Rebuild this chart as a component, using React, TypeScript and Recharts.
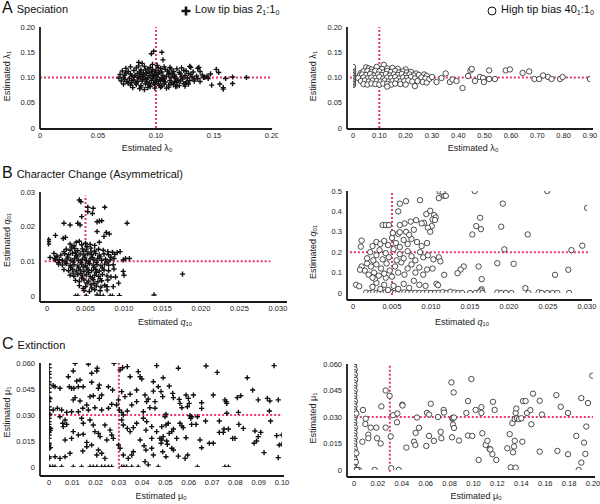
import React from 'react';
import { ScatterChart, Scatter, XAxis, YAxis, ReferenceLine } from 'recharts';

type P = [number, number];

// ---------- Panel A: Speciation ----------
const aLowPts: P[] = [
  [0.078,0.121],[0.085,0.123],[0.09,0.122],[0.095,0.12],[0.101,0.124],[0.107,0.121],[0.112,0.12],[0.083,0.119],[0.097,0.126],[0.104,0.118],[0.074,0.118],[0.118,0.117],[0.13,0.12],[0.136,0.118],[0.088,0.128],[0.122,0.119],
  [0.071,0.113],[0.076,0.112],[0.081,0.114],[0.086,0.111],[0.091,0.115],[0.096,0.112],[0.1,0.114],[0.105,0.111],[0.11,0.113],[0.115,0.112],[0.12,0.11],[0.126,0.113],[0.132,0.111],[0.138,0.112],[0.093,0.117],[0.108,0.116],
  [0.069,0.106],[0.073,0.105],[0.078,0.107],[0.082,0.104],[0.087,0.106],[0.092,0.108],[0.097,0.105],[0.102,0.107],[0.106,0.104],[0.111,0.106],[0.116,0.105],[0.121,0.107],[0.125,0.104],[0.13,0.106],[0.135,0.103],[0.14,0.105],[0.089,0.109],[0.099,0.109],[0.114,0.108],
  [0.068,0.099],[0.072,0.1],[0.077,0.098],[0.081,0.101],[0.085,0.099],[0.089,0.102],[0.093,0.1],[0.097,0.098],[0.101,0.101],[0.105,0.099],[0.109,0.102],[0.113,0.1],[0.117,0.098],[0.122,0.101],[0.127,0.099],[0.131,0.101],[0.136,0.098],[0.141,0.1],[0.095,0.103],[0.103,0.096],[0.088,0.096],
  [0.07,0.093],[0.075,0.092],[0.079,0.094],[0.084,0.092],[0.088,0.093],[0.092,0.091],[0.096,0.094],[0.1,0.092],[0.104,0.093],[0.108,0.091],[0.112,0.094],[0.116,0.092],[0.121,0.093],[0.126,0.091],[0.133,0.093],[0.138,0.092],[0.098,0.089],[0.083,0.089],
  [0.072,0.087],[0.078,0.085],[0.083,0.086],[0.087,0.084],[0.091,0.087],[0.095,0.085],[0.099,0.086],[0.103,0.084],[0.107,0.087],[0.111,0.085],[0.115,0.086],[0.12,0.084],[0.128,0.087],[0.076,0.089],
  [0.08,0.08],[0.086,0.078],[0.093,0.08],[0.099,0.079],[0.104,0.081],[0.109,0.079],[0.117,0.082],[0.125,0.083],[0.09,0.076],
  [0.074,0.109],[0.079,0.103],[0.084,0.108],[0.09,0.105],[0.094,0.11],[0.098,0.102],[0.103,0.11],[0.107,0.097],[0.111,0.109],[0.116,0.102],[0.119,0.095],[0.123,0.097],[0.128,0.108],[0.133,0.097],[0.081,0.095],[0.086,0.102],[0.091,0.097],[0.094,0.088],[0.102,0.088],[0.106,0.095],[0.113,0.089],[0.118,0.09],[0.124,0.088],[0.079,0.09],[0.073,0.096],[0.097,0.116],[0.102,0.119],[0.087,0.115],[0.113,0.117],[0.124,0.114],[0.129,0.094],[0.144,0.103],[0.147,0.107],[0.095,0.082],[0.105,0.083],[0.111,0.081],[0.087,0.081],[0.1,0.095],[0.1,0.105],[0.092,0.096],
  [0.098,0.152],[0.105,0.15],[0.096,0.147],[0.106,0.135],[0.085,0.13],[0.129,0.122],[0.137,0.12],[0.145,0.098],[0.152,0.116],[0.154,0.11],[0.148,0.085],[0.155,0.087],[0.158,0.08],[0.158,0.077],[0.166,0.101],[0.166,0.088],[0.178,0.1],[0.142,0.1],[0.16,0.098],[0.125,0.087],[0.118,0.083]
];
const aHighPts: P[] = [
  [0,0.085],[0,0.088],[0,0.091],[0,0.094],[0,0.097],[0,0.1],[0,0.103],[0,0.106],[0,0.109],[0,0.112],[0,0.115],[0,0.118],[0,0.121],
  [0.05,0.12],[0.06,0.118],[0.09,0.121],[0.117,0.125],[0.13,0.118],[0.15,0.119],[0.17,0.117],[0.07,0.116],[0.2,0.116],[0.11,0.117],
  [0.03,0.109],[0.04,0.112],[0.055,0.113],[0.07,0.111],[0.085,0.113],[0.1,0.112],[0.115,0.11],[0.13,0.113],[0.145,0.111],[0.16,0.113],[0.175,0.11],[0.19,0.112],[0.205,0.11],[0.22,0.111],[0.24,0.108],
  [0.025,0.104],[0.035,0.106],[0.05,0.105],[0.065,0.107],[0.08,0.104],[0.095,0.106],[0.11,0.105],[0.125,0.107],[0.14,0.104],[0.155,0.106],[0.17,0.105],[0.185,0.107],[0.2,0.104],[0.215,0.106],[0.23,0.104],[0.25,0.105],[0.27,0.106],[0.28,0.103],
  [0.02,0.099],[0.04,0.1],[0.055,0.098],[0.07,0.1],[0.085,0.099],[0.1,0.101],[0.115,0.098],[0.13,0.1],[0.145,0.099],[0.16,0.101],[0.175,0.098],[0.19,0.1],[0.205,0.099],[0.22,0.101],[0.235,0.098],[0.26,0.1],[0.275,0.098],
  [0.03,0.093],[0.045,0.094],[0.06,0.092],[0.075,0.094],[0.09,0.093],[0.105,0.092],[0.12,0.094],[0.135,0.092],[0.15,0.093],[0.165,0.094],[0.18,0.092],[0.195,0.093],[0.21,0.094],[0.225,0.092],[0.245,0.093],[0.265,0.091],
  [0.04,0.087],[0.055,0.086],[0.07,0.088],[0.085,0.087],[0.1,0.086],[0.115,0.088],[0.13,0.087],[0.145,0.086],[0.16,0.088],[0.18,0.087],[0.2,0.086],[0.235,0.083],[0.13,0.082],[0.28,0.09],
  [0.29,0.097],[0.3,0.101],[0.317,0.091],[0.336,0.099],[0.352,0.108],[0.368,0.091],[0.378,0.096],[0.393,0.093],[0.416,0.079],[0.437,0.103],[0.446,0.114],[0.451,0.117],[0.463,0.093],[0.482,0.101],[0.494,0.099],[0.497,0.091],[0.517,0.114],[0.517,0.097],[0.539,0.097],[0.58,0.114],[0.596,0.116],[0.644,0.109],[0.669,0.112],[0.689,0.097],[0.707,0.097],[0.722,0.104],[0.741,0.101],[0.754,0.097],[0.786,0.097],[0.796,0.101],[0.9,0.097]
];

// ---------- Panel B: Character change ----------
const bLowPts: P[] = [
  [0.003,0.015],[0.0038,0.0155],[0.0045,0.0148],[0.005,0.0152],[0.0056,0.0149],[0.0042,0.0158],[0.0062,0.0146],[0.0035,0.0145],[0.0068,0.0155],
  [0.0025,0.0135],[0.003,0.0132],[0.0036,0.0137],[0.004,0.0131],[0.0046,0.0136],[0.0051,0.0133],[0.0057,0.0138],[0.0062,0.013],[0.0067,0.0135],[0.0073,0.0132],[0.0079,0.0128],[0.0085,0.0126],[0.0022,0.0128],
  [0.0018,0.0118],[0.0023,0.0122],[0.0028,0.0119],[0.0033,0.0123],[0.0038,0.0117],[0.0043,0.0121],[0.0048,0.0118],[0.0053,0.0122],[0.0058,0.0119],[0.0063,0.0123],[0.0068,0.0118],[0.0074,0.0121],[0.008,0.0119],[0.0088,0.012],[0.0013,0.0115],
  [0.001,0.0108],[0.0016,0.0105],[0.002,0.0103],[0.0026,0.0107],[0.0031,0.0104],[0.0036,0.0108],[0.0041,0.0103],[0.0046,0.0106],[0.0051,0.0102],[0.0056,0.0107],[0.0061,0.0104],[0.0066,0.0108],[0.0071,0.0103],[0.0076,0.0106],[0.0082,0.0104],[0.0087,0.0108],
  [0.0015,0.0092],[0.002,0.0089],[0.0025,0.0093],[0.003,0.0088],[0.0035,0.0091],[0.004,0.0087],[0.0045,0.0092],[0.005,0.0088],[0.0055,0.0093],[0.006,0.0089],[0.0065,0.0091],[0.007,0.0087],[0.0075,0.0092],[0.008,0.0089],[0.0086,0.009],
  [0.0022,0.0076],[0.0028,0.0073],[0.0033,0.0077],[0.0038,0.0072],[0.0043,0.0075],[0.0048,0.0071],[0.0053,0.0076],[0.0058,0.0073],[0.0063,0.0077],[0.0068,0.0072],[0.0074,0.0075],[0.008,0.0073],[0.0087,0.0078],
  [0.003,0.006],[0.0035,0.0057],[0.004,0.0062],[0.0046,0.0058],[0.0051,0.0061],[0.0056,0.0056],[0.0062,0.006],[0.0067,0.0057],[0.0072,0.0062],[0.0078,0.0058],[0.0083,0.0055],
  [0.0037,0.0045],[0.0042,0.0042],[0.0048,0.0046],[0.0054,0.0043],[0.006,0.0047],[0.0066,0.0041],[0.0071,0.0044],[0.0079,0.0046],
  [0.0042,0.003],[0.005,0.0027],[0.0057,0.0032],[0.0064,0.0029],[0.007,0.0026],[0.0075,0.0031],
  [0.0048,0.0016],[0.0055,0.0013],[0.0062,0.0018],[0.0069,0.0015],
  [0.0027,0.0112],[0.0034,0.0098],[0.0039,0.0113],[0.0044,0.0097],[0.0049,0.0112],[0.0054,0.0098],[0.0059,0.0111],[0.0064,0.0097],[0.0069,0.0113],[0.0031,0.0083],[0.0041,0.0081],[0.0047,0.0084],[0.0052,0.0081],[0.0061,0.0083],[0.0072,0.0081],[0.0037,0.0126],[0.0047,0.0128],[0.0057,0.0127],[0.0032,0.0141],[0.0052,0.0143],[0.0044,0.0066],[0.0054,0.0067],[0.0064,0.0068],[0.0034,0.0066],[0.0024,0.0098],[0.0078,0.0098],[0.0083,0.0112],[0.0045,0.0052],[0.0059,0.0052],[0.0069,0.005],[0.0052,0.0037],[0.0061,0.0036],[0.0047,0.0022],[0.0058,0.0023],
  [0.0042,0.0277],[0.0044,0.0272],[0.0053,0.0256],[0.006,0.0253],[0.0075,0.0256],[0.0059,0.0238],[0.0053,0.0243],[0.0045,0.0229],[0.0065,0.0214],[0.0068,0.0216],[0.0071,0.0217],[0.0022,0.021],[0.003,0.0205],[0.004,0.021],[0.0043,0.0205],[0.0104,0.021],
  [0.0011,0.0175],[0.0002,0.0163],[0.0002,0.0157],[0.0002,0.015],[0.0021,0.0166],[0.0024,0.0169],[0.0077,0.0183],[0.0081,0.0179],[0.0074,0.0172],[0.0065,0.0186],
  [0.0176,0.0063],[0.0139,0.0003],[0.0037,0],[0.004,0],[0.0051,0],[0.0065,0.0003],[0.0069,0],[0.0073,0],[0.0082,0],[0.0085,0],[0.0094,0.0001],
  [0.0099,0.0104],[0.0102,0.0108],[0.0107,0.0108],[0.0099,0.0071],[0.01,0.006],[0.0095,0.0128],[0.0091,0.0125],[0.0089,0.0055],[0.0093,0.0037],[0.0086,0.0027],[0.0078,0.0027],[0.0078,0.0017],
  [0.0009,0.0123],[0.0012,0.0113],[0.0015,0.0096],[0.0011,0.0104],[0.0004,0.0111]
];
const bHighPts: P[] = [
  [0.0017,0.002],[0.0022,0],[0.0026,0.003],[0.003,0],[0.0034,0.001],[0.0038,0],[0.0042,0.004],[0.0046,0],[0.005,0.002],[0.0054,0],[0.0058,0.001],[0.0062,0],[0.0066,0.003],[0.007,0],[0.0075,0],[0.008,0.001],[0.0085,0],[0.009,0],[0.0095,0.002],[0.01,0],[0.0105,0],[0.011,0.001],[0.0115,0.004],[0.012,0],[0.0125,0.006],
  [0.0025,0.03],[0.003,0.05],[0.0035,0.02],[0.004,0.04],[0.0045,0.015],[0.0052,0.035],[0.0058,0.02],[0.0065,0.045],[0.0072,0.025],[0.0078,0.06],[0.0085,0.04],[0.0093,0.035],[0.0028,0.07],[0.0042,0.075],
  [0.0015,0.11],[0.002,0.09],[0.0023,0.13],[0.0027,0.1],[0.003,0.14],[0.0033,0.085],[0.0036,0.12],[0.004,0.095],[0.0043,0.145],[0.0047,0.11],[0.005,0.08],[0.0054,0.13],[0.0058,0.1],[0.0062,0.15],[0.0066,0.09],[0.007,0.12],[0.0075,0.14],[0.008,0.1],[0.0085,0.125],[0.009,0.09],[0.0095,0.115],[0.0102,0.12],[0.0018,0.145],[0.0025,0.075],
  [0.0018,0.17],[0.0022,0.2],[0.0026,0.16],[0.003,0.185],[0.0034,0.21],[0.0038,0.165],[0.0042,0.195],[0.0046,0.175],[0.0052,0.215],[0.0056,0.16],[0.006,0.19],[0.0065,0.17],[0.007,0.205],[0.0075,0.18],[0.008,0.16],[0.0086,0.2],[0.009,0.175],[0.0096,0.185],[0.0103,0.165],[0.011,0.175],[0.0112,0.155],
  [0.0025,0.23],[0.003,0.25],[0.0035,0.24],[0.004,0.255],[0.0045,0.235],[0.005,0.27],[0.0055,0.245],[0.006,0.225],[0.0065,0.26],[0.007,0.24],[0.0075,0.265],[0.0082,0.25],[0.0088,0.23],[0.0095,0.245],[0.0068,0.3],[0.0072,0.285],[0.0078,0.31],[0.0058,0.29],
  [0.006,0.438],[0.0068,0.45],[0.0086,0.455],[0.0058,0.4],[0.0094,0.387],[0.0099,0.403],[0.0104,0.382],[0.0106,0.37],[0.0102,0.36],[0.0105,0.358],[0.0101,0.328],[0.0091,0.344],[0.0088,0.341],[0.0081,0.357],[0.0074,0.35],[0.0066,0.341],[0.006,0.333],[0.0038,0.333],[0.0042,0.333],[0.0046,0.333],[0.0096,0.32],[0.0099,0.3],[0.0051,0.294],[0.006,0.298],[0.0011,0.257],[0.001,0.227],[0.0004,0.04],[0.0008,0.033],[0.0011,0.13],[0.0009,0.114],
  [0.0111,0.498],[0.0115,0.493],[0.0117,0.476],[0.011,0.465],[0.0119,0.476],[0.0156,0.5],[0.0249,0.5],[0.0192,0.438],[0.03,0.417],[0.0163,0.369],[0.0158,0.328],[0.0164,0.313],[0.019,0.325],[0.0153,0.287],[0.0224,0.287],[0.0294,0.232],[0.0194,0.214],[0.028,0.21],
  [0.0142,0.13],[0.0138,0.115],[0.0134,0.097],[0.0161,0.13],[0.0185,0.146],[0.0206,0.143],[0.0165,0.068],[0.0276,0.114],[0.0259,0.089],[0.0117,0.089],[0.0107,0.045],[0.0109,0.038],[0.0221,0.024],[0.0165,0.018],[0.0164,0.012],
  [0.013,0.002],[0.0135,0],[0.014,0],[0.015,0],[0.0157,0],[0.0162,0.003],[0.0166,0],[0.0185,0.002],[0.019,0],[0.0196,0],[0.0203,0],[0.0225,0],[0.0238,0.003],[0.0242,0],[0.0249,0],[0.0256,0],[0.0262,0],[0.0277,0]
];

// ---------- Panel C: Extinction ----------
const cLowPts: P[] = [
  [0,0.0593],[0,0.0573],[0,0.055],[0,0.0535],[0,0.0515],[0,0.0492],[0,0.0477],[0,0.0454],[0,0.0431],[0,0.04],[0,0.0377],[0,0.0348],[0,0.0329],[0,0.03],[0,0.0281],[0,0.0262],[0,0.0246],[0,0.0227],[0,0.0213],[0,0.02],[0,0.0185],[0,0.0165],[0,0.0137],[0,0.0127],[0,0.0108],[0,0.0059],[0,0.005],[0,0],
  [0.0004,0.0395],[0.0005,0.021],[0.0006,0.0112],[0.0004,0.0305],[0.0007,0.0222],
  [0.0112,0.0598],[0.0169,0.0593],[0.0207,0.057],[0.0205,0.0554],[0.0183,0.0541],[0.0279,0.0598],[0.0316,0.0573],[0.0336,0.0579],[0.0305,0.056],
  [0.0104,0.0554],[0.0083,0.0521],[0.0133,0.0502],[0.0119,0.0496],[0.0047,0.0454],[0.0026,0.0463],[0.0018,0.0469],
  [0.0087,0.0463],[0.0097,0.0454],[0.0107,0.0454],[0.0126,0.0463],[0.0147,0.0463],[0.0183,0.0489],[0.0212,0.0454],[0.0216,0.0473],[0.0255,0.0463],[0.0273,0.0444],
  [0.0348,0.0521],[0.0383,0.055],[0.0391,0.0521],[0.0398,0.0508],[0.0462,0.0585],
  [0.0448,0.0492],[0.0469,0.0463],[0.0448,0.0438],[0.0376,0.0444],[0.0348,0.042],[0.0326,0.0406],[0.0312,0.0435],[0.0298,0.0387],
  [0.0112,0.04],[0.0104,0.0387],[0.0133,0.0381],[0.0176,0.0406],[0.019,0.0411],[0.0226,0.0415],[0.0216,0.0396],
  [0.0145,0.0339],[0.0162,0.0358],[0.0169,0.0329],[0.0197,0.0342],[0.0226,0.0329],[0.0255,0.0339],[0.0269,0.0362],
  [0.029,0.0358],[0.0302,0.0329],[0.0312,0.0315],[0.0319,0.03],[0.0336,0.0323],[0.0355,0.0358],[0.0376,0.0377],
  [0.0412,0.0415],[0.0419,0.0377],[0.0426,0.0392],[0.0455,0.0377],[0.0455,0.0339],[0.0433,0.0342],[0.0405,0.0319],
  [0.0018,0.0329],[0.0036,0.0339],[0.0054,0.0329],[0.0076,0.0315],[0.0097,0.0319],[0.0126,0.0319],
  [0.0047,0.029],[0.0069,0.0271],[0.0059,0.0252],[0.0076,0.0246],[0.0061,0.0233],
  [0.014,0.0281],[0.0147,0.0252],[0.0176,0.0271],[0.019,0.0242],[0.0197,0.0204],[0.0212,0.0194],[0.0219,0.0175],
  [0.0104,0.0204],[0.0126,0.0185],[0.0147,0.0189],[0.0097,0.0165],[0.0069,0.0156],
  [0.024,0.0242],[0.0262,0.0213],[0.0269,0.0185],[0.0276,0.0165],[0.0248,0.0156],
  [0.0312,0.0271],[0.0319,0.0242],[0.0336,0.0223],[0.0348,0.0204],[0.0362,0.0227],[0.0376,0.0252],
  [0.0405,0.0281],[0.0419,0.0262],[0.0416,0.0213],[0.0441,0.0233],[0.0462,0.0204],[0.0476,0.0165],[0.0441,0.0165],
  [0.0162,0.0142],[0.0183,0.0127],[0.0162,0.0117],[0.0145,0.0092],
  [0.009,0.0079],[0.0069,0.0059],[0.0047,0.005],[0.0026,0.0059],
  [0.0212,0.0098],[0.0226,0.0079],[0.0205,0.0069],[0.024,0.005],
  [0.0298,0.0127],[0.0305,0.0108],[0.0319,0.0069],[0.0355,0.0069],[0.0362,0.0088],[0.034,0.005],
  [0.0391,0.0156],[0.0408,0.0123],[0.0416,0.0098],[0.0441,0.0108],[0.0448,0.0069],[0.0412,0.0031],[0.0426,0.0012],
  [0.0004,0],[0.0016,0],[0.0026,0],[0.0054,0],[0.0104,0],[0.014,0],[0.0176,0],[0.019,0],[0.0205,0],[0.0226,0],[0.024,0],[0.0255,0],[0.0269,0],[0.0312,0],[0.0322,0],[0.0333,0],[0.0355,0],[0.0383,0],[0.0469,0],
  [0.0555,0.057],[0.0674,0.0583],[0.0722,0.0546],[0.0966,0.0585],[0.049,0.0515],[0.0851,0.0515],[0.0516,0.0467],[0.0874,0.0444],[0.0481,0.0435],
  [0.0531,0.0425],[0.0534,0.04],[0.0488,0.0406],[0.0559,0.039],[0.0562,0.0367],[0.057,0.0342],
  [0.0588,0.0415],[0.0598,0.0396],[0.062,0.0415],[0.0602,0.0367],[0.0594,0.0348],[0.0655,0.0371],[0.0655,0.0338],[0.0705,0.0415],
  [0.0755,0.0387],[0.076,0.0377],[0.0763,0.0367],[0.0808,0.04],[0.0823,0.0411],[0.0898,0.0387],[0.0937,0.0396],[0.0948,0.0381],[0.0984,0.0387],
  [0.0946,0.0323],[0.0951,0.0265],[0.0813,0.0315],[0.0763,0.031],[0.0731,0.0265],[0.0672,0.0265],
  [0.0637,0.029],[0.0608,0.0281],[0.0612,0.029],[0.0605,0.0296],[0.0631,0.0246],[0.0612,0.0246],
  [0.0502,0.0304],[0.0498,0.029],[0.0484,0.0233],[0.0502,0.0242],[0.0512,0.0252],
  [0.0562,0.0252],[0.057,0.0237],[0.0576,0.0227],[0.0534,0.0219],[0.0527,0.0204],[0.0516,0.0194],
  [0.0588,0.0169],[0.0548,0.0165],[0.049,0.0175],[0.0484,0.0156],[0.0481,0.0137],[0.0505,0.015],[0.0508,0.0131],
  [0.0527,0.0108],[0.0534,0.0098],[0.0488,0.0088],[0.0502,0.0059],[0.0555,0.0063],[0.0595,0.0069],[0.0584,0.005],
  [0.0648,0.0156],[0.0655,0.0111],[0.0688,0.0137],[0.0705,0.0137],
  [0.0731,0.02],[0.0751,0.0219],[0.077,0.0219],[0.0748,0.02],[0.0788,0.0165],[0.0798,0.0165],
  [0.0815,0.0246],[0.0834,0.0223],[0.0884,0.0208],[0.0909,0.02],[0.0898,0.0175],[0.0891,0.015],[0.088,0.0137],[0.0923,0.0083],
  [0.0977,0.0181],[0.1,0.0185],[0.0988,0.0127],[0.1,0.0131],[0.0984,0.0054],
  [0.0637,0],[0.0755,0],[0.077,0]
];
const cHighPts: P[] = [
  [0,0.06],[0,0.0585],[0.0005,0.057],[0,0.0555],[0.0008,0.054],[0,0.0525],[0.001,0.051],[0,0.0495],[0.0004,0.048],[0,0.0465],[0.0006,0.045],[0,0.0435],[0.0003,0.042],[0,0.0405],[0.0007,0.039],[0,0.0375],[0.0004,0.036],[0,0.0345],[0.0009,0.033],[0,0.0315],[0.0005,0.03],[0,0.0285],[0.0003,0.027],[0,0.0255],[0.0008,0.024],[0,0.0225],[0.0004,0.021],[0,0.0195],[0.0006,0.018],[0,0.0165],[0.0003,0.015],[0,0.0135],[0.0007,0.012],[0,0.0105],[0.0004,0.009],[0,0.0075],[0.0006,0.006],[0,0.0045],[0.0003,0.003],[0,0.0015],[0.001,0],[0.002,0.032],[0.002,0.0095],[0.0015,0.0045],
  [0.0075,0.034],[0.0098,0.029],[0.0095,0.026],[0.012,0.02],[0.012,0.018],[0.014,0.024],[0.007,0.016],[0.004,0],[0.0025,0],
  [0.0187,0.024],[0.0193,0.018],[0.0223,0.015],[0.0229,0.036],[0.0173,0],[0.0265,0.045],[0.0265,0.024],[0.0298,0.042],[0.0307,0.019],[0.0312,0.001],[0.0326,0.031],[0.0363,0.032],[0.036,0.027],[0.0374,0],
  [0.0404,0.037],[0.0406,0.0365],[0.0438,0.0127],[0.0502,0.016],[0.0513,0.0142],[0.0516,0.021],[0.0527,0.0297],[0.0544,0.0239],[0.0605,0.0136],[0.0611,0.0323],[0.0628,0.0314],[0.0628,0.0193],[0.0642,0.0375],[0.0669,0.0165],
  [0.0703,0.03],[0.0725,0.0216],[0.0731,0.018],[0.075,0.034],[0.0753,0.0325],[0.0815,0.0496],[0.0823,0.029],[0.0826,0.0295],[0.082,0.0185],[0.0834,0.0439],[0.0828,0.0257],[0.0837,0.0238],[0.0837,0.0297],[0.0879,0.0167],
  [0.094,0.0323],[0.0954,0.039],[0.0954,0.0195],[0.0982,0.0515],[0.099,0.0193],[0.1018,0.034],[0.1043,0.0057],[0.1066,0.0356],[0.1066,0.0323],[0.1074,0.0208],[0.1102,0.0142],[0.1116,0.0165],[0.1135,0.0119],[0.1141,0.0116],[0.1158,0.0089],[0.1163,0.0386],[0.1177,0.034],[0.1191,0.0057],
  [0.1283,0.0123],[0.1303,0.0203],[0.1311,0.0015],[0.1325,0.0265],[0.1331,0.01],[0.1339,0.0133],[0.1345,0.0165],[0.1345,0.0288],[0.1353,0.0013],[0.1353,0.0323],[0.1358,0.0348],[0.1364,0.0293],[0.138,0.0288],[0.14,0.0293],[0.1409,0.016],[0.1414,0.039],[0.1436,0.039],[0.1448,0.0323],[0.1476,0.0339],[0.1484,0.0259],[0.1498,0.0432],
  [0.1554,0.0392],[0.1554,0.0104],[0.1573,0.0314],[0.1693,0.0424],[0.1702,0.0108],[0.173,0.0358],[0.1791,0.0323],[0.1791,0.0089],[0.186,0.0193],[0.188,0],[0.1902,0.0407],[0.1902,0.0042],[0.1925,0.0155],[0.1936,0.0091],[0.1944,0.0246],[0.1958,0.0379],[0.1994,0.0534]
];

// ---------- Ticks ----------
const aLowXTicks = [0, 0.05, 0.1, 0.15, 0.2];
const aLowXLabels = ['0', '0.05', '0.10', '0.15', '0.20'];
const aHighXTicks = [0, 0.1, 0.2, 0.3, 0.4, 0.5, 0.6, 0.7, 0.8, 0.9];
const aHighXLabels = ['0', '0.10', '0.20', '0.30', '0.40', '0.50', '0.60', '0.70', '0.80', '0.90'];
const aYTicks = [0, 0.05, 0.1, 0.15, 0.2];
const aYLabels = ['0', '0.05', '0.10', '0.15', '0.20'];
const bXTicks = [0, 0.005, 0.01, 0.015, 0.02, 0.025, 0.03];
const bXLabels = ['0', '0.005', '0.010', '0.015', '0.020', '0.025', '0.030'];
const bLowYTicks = [0, 0.01, 0.02, 0.03];
const bLowYLabels = ['0', '0.01', '0.02', '0.03'];
const bHighYTicks = [0, 0.1, 0.2, 0.3, 0.4, 0.5];
const bHighYLabels = ['0', '0.1', '0.2', '0.3', '0.4', '0.5'];
const cLowXTicks = [0, 0.01, 0.02, 0.03, 0.04, 0.05, 0.06, 0.07, 0.08, 0.09, 0.1];
const cLowXLabels = ['0', '0.01', '0.02', '0.03', '0.04', '0.05', '0.06', '0.07', '0.08', '0.09', '0.10'];
const cHighXTicks = [0, 0.02, 0.04, 0.06, 0.08, 0.1, 0.12, 0.14, 0.16, 0.18, 0.2];
const cHighXLabels = ['0', '0.02', '0.04', '0.06', '0.08', '0.10', '0.12', '0.14', '0.16', '0.18', '0.20'];
const cYTicks = [0, 0.015, 0.03, 0.045, 0.06];
const cYLabels = ['0', '0.015', '0.030', '0.045', '0.060'];

const toObj = (a: P[]) => a.map(([x, y]) => ({ x, y }));

const PINK = '#e8386d';
const FONT = '"Liberation Sans", Arial, Helvetica, sans-serif';

const PlusShape = (p: any) => (
  <path d={`M${p.cx - 2.6},${p.cy}h5.2M${p.cx},${p.cy - 2.6}v5.2`} stroke="#111" strokeWidth={1.4} fill="none" />
);
const RingShape = (p: any) => (
  <circle cx={p.cx} cy={p.cy} r={2.7} fill="#fff" stroke="#222" strokeWidth={0.8} />
);

type PanelProps = {
  plotLeft: number; plotRight: number; plotTop: number; plotBottom: number;
  xDomain: [number, number]; yDomain: [number, number];
  xTicks: number[]; xLabels: string[]; yTicks: number[]; yLabels: string[];
  padL: number; padR: number; padB: number;
  pts: P[]; kind: 'plus' | 'ring';
  refX: number; refY: number;
  vSeg: [number, number]; hSeg: [number, number];
};

const Panel = (p: PanelProps) => {
  const mt = 6, mr = 6, yw = 40, xh = 20;
  const w = p.plotRight - p.plotLeft + yw + mr;
  const h = p.plotBottom - p.plotTop + mt + xh;
  const tickStyle = { fontSize: 7.5, fill: '#222', fontFamily: FONT };
  const axisStyle = { stroke: '#1a1a1a', strokeWidth: 1.8 };
  return (
    <div style={{ position: 'absolute', left: p.plotLeft - yw, top: p.plotTop - mt }}>
      <ScatterChart width={w} height={h} margin={{ top: mt, right: mr, bottom: 0, left: 0 }}>
        <XAxis
          type="number" dataKey="x" domain={p.xDomain} ticks={p.xTicks} allowDataOverflow
          tickFormatter={(v: number, i: number) => p.xLabels[i]} interval={0}
          tickLine={false} tickSize={3} tickMargin={1} height={xh}
          axisLine={axisStyle} stroke="#1a1a1a" tick={tickStyle}
          padding={{ left: p.padL, right: p.padR }}
        />
        <YAxis
          type="number" dataKey="y" domain={p.yDomain} ticks={p.yTicks} allowDataOverflow
          tickFormatter={(v: number, i: number) => p.yLabels[i]} interval={0}
          tickLine={false} tickSize={3} tickMargin={2} width={yw}
          axisLine={axisStyle} stroke="#1a1a1a" tick={tickStyle}
          padding={{ top: 0, bottom: p.padB }}
        />
        <Scatter data={toObj(p.pts)} isAnimationActive={false} shape={p.kind === 'plus' ? PlusShape : RingShape} />
        <ReferenceLine
          segment={[{ x: p.refX, y: p.vSeg[0] }, { x: p.refX, y: p.vSeg[1] }]}
          stroke={PINK} strokeWidth={2} strokeDasharray="2 2" ifOverflow="visible"
        />
        <ReferenceLine
          segment={[{ x: p.hSeg[0], y: p.refY }, { x: p.hSeg[1], y: p.refY }]}
          stroke={PINK} strokeWidth={2} strokeDasharray="2 2" ifOverflow="visible"
        />
      </ScatterChart>
    </div>
  );
};

const Sub = ({ children }: { children: React.ReactNode }) => (
  <span style={{ fontSize: '65%', verticalAlign: '-0.3em' }}>{children}</span>
);

const XTitle = ({ cx, cy, children }: { cx: number; cy: number; children: React.ReactNode }) => (
  <div style={{ position: 'absolute', left: cx, top: cy, transform: 'translate(-50%,-50%)', whiteSpace: 'nowrap', fontSize: 9, color: '#222', fontFamily: FONT }}>{children}</div>
);
const YTitle = ({ cx, cy, children }: { cx: number; cy: number; children: React.ReactNode }) => (
  <div style={{ position: 'absolute', left: cx, top: cy, transform: 'translate(-50%,-50%) rotate(-90deg)', whiteSpace: 'nowrap', fontSize: 9, color: '#222', fontFamily: FONT }}>{children}</div>
);
const Title = ({ top, letter, text }: { top: number; letter: string; text: string }) => (
  <div style={{ position: 'absolute', left: 2, top, whiteSpace: 'nowrap', fontFamily: FONT, color: '#111', lineHeight: '18px' }}>
    <span style={{ fontSize: 16 }}>{letter}</span>
    <span style={{ fontSize: 11, marginLeft: 4 }}>{text}</span>
  </div>
);

export default function App() {
  return (
    <div style={{ position: 'fixed', left: 0, top: 0, width: 600, height: 504, background: '#fff', overflow: 'hidden', fontFamily: FONT }}>
      <Title top={-1} letter="A" text="Speciation" />
      <Title top={164} letter="B" text="Character Change (Asymmetrical)" />
      <Title top={335} letter="C" text="Extinction" />

      <div style={{ position: 'absolute', left: 181, top: 1, whiteSpace: 'nowrap', fontSize: 11, color: '#111', lineHeight: '16px', display: 'flex', alignItems: 'center' }}>
        <svg width={10} height={10} style={{ marginRight: 4 }}>
          <path d="M5,0.5V9.5M0.5,5H9.5" stroke="#111" strokeWidth={2.6} />
        </svg>
        <span>Low tip bias 2<Sub>1</Sub>:1<Sub>0</Sub></span>
      </div>
      <div style={{ position: 'absolute', left: 487, top: 1, whiteSpace: 'nowrap', fontSize: 11, color: '#111', lineHeight: '16px', display: 'flex', alignItems: 'center' }}>
        <svg width={10} height={10} style={{ marginRight: 4 }}>
          <circle cx={5} cy={5} r={4} fill="#fff" stroke="#111" strokeWidth={1} />
        </svg>
        <span>High tip bias 40<Sub>1</Sub>:1<Sub>0</Sub></span>
      </div>

      <Panel plotLeft={40} plotRight={272} plotTop={27} plotBottom={129}
        xDomain={[0, 0.2]} yDomain={[0, 0.2]} xTicks={aLowXTicks} xLabels={aLowXLabels} yTicks={aYTicks} yLabels={aYLabels}
        padL={0} padR={0} padB={1} pts={aLowPts} kind="plus" refX={0.1} refY={0.1} vSeg={[0, 0.2]} hSeg={[0, 0.2]} />
      <Panel plotLeft={347} plotRight={593} plotTop={27} plotBottom={129}
        xDomain={[0, 0.9]} yDomain={[0, 0.2]} xTicks={aHighXTicks} xLabels={aHighXLabels} yTicks={aYTicks} yLabels={aYLabels}
        padL={6} padR={3} padB={1} pts={aHighPts} kind="ring" refX={0.1} refY={0.1} vSeg={[0, 0.2]} hSeg={[-0.012, 0.9]} />

      <Panel plotLeft={40} plotRight={287} plotTop={192} plotBottom={302}
        xDomain={[0, 0.03]} yDomain={[0, 0.03]} xTicks={bXTicks} xLabels={bXLabels} yTicks={bLowYTicks} yLabels={bLowYLabels}
        padL={7} padR={9} padB={6} pts={bLowPts} kind="plus" refX={0.005} refY={0.01} vSeg={[0, 0.029]} hSeg={[-0.0003, 0.029]} />
      <Panel plotLeft={347} plotRight={592} plotTop={191} plotBottom={300}
        xDomain={[0, 0.03]} yDomain={[0, 0.5]} xTicks={bXTicks} xLabels={bXLabels} yTicks={bHighYTicks} yLabels={bHighYLabels}
        padL={6} padR={5} padB={7} pts={bHighPts} kind="ring" refX={0.005} refY={0.2} vSeg={[-0.01, 0.497]} hSeg={[-0.0004, 0.0302]} />

      <Panel plotLeft={40} plotRight={284} plotTop={363} plotBottom={476}
        xDomain={[0, 0.1]} yDomain={[0, 0.06]} xTicks={cLowXTicks} xLabels={cLowXLabels} yTicks={cYTicks} yLabels={cYLabels}
        padL={9} padR={2} padB={9} pts={cLowPts} kind="plus" refX={0.03} refY={0.03} vSeg={[-0.001, 0.06]} hSeg={[0.0005, 0.1]} />
      <Panel plotLeft={347} plotRight={595} plotTop={364} plotBottom={477}
        xDomain={[0, 0.2]} yDomain={[0, 0.06]} xTicks={cHighXTicks} xLabels={cHighXLabels} yTicks={cYTicks} yLabels={cYLabels}
        padL={7} padR={2} padB={7} pts={cHighPts} kind="ring" refX={0.03} refY={0.03} vSeg={[-0.001, 0.06]} hSeg={[0.0015, 0.2]} />

      <XTitle cx={147} cy={148}>Estimated λ<Sub>0</Sub></XTitle>
      <XTitle cx={473} cy={148}>Estimated λ<Sub>0</Sub></XTitle>
      <XTitle cx={165} cy={322}>Estimated <i>q</i><Sub>10</Sub></XTitle>
      <XTitle cx={462} cy={322}>Estimated <i>q</i><Sub>10</Sub></XTitle>
      <XTitle cx={161} cy={496}>Estimated μ<Sub>0</Sub></XTitle>
      <XTitle cx={476} cy={496}>Estimated μ<Sub>0</Sub></XTitle>

      <YTitle cx={7} cy={76}>Estimated λ<Sub>1</Sub></YTitle>
      <YTitle cx={313} cy={76}>Estimated λ<Sub>1</Sub></YTitle>
      <YTitle cx={7} cy={240}>Estimated <i>q</i><Sub>01</Sub></YTitle>
      <YTitle cx={313} cy={252}>Estimated <i>q</i><Sub>01</Sub></YTitle>
      <YTitle cx={7} cy={412}>Estimated μ<Sub>1</Sub></YTitle>
      <YTitle cx={313} cy={418}>Estimated μ<Sub>1</Sub></YTitle>
    </div>
  );
}
